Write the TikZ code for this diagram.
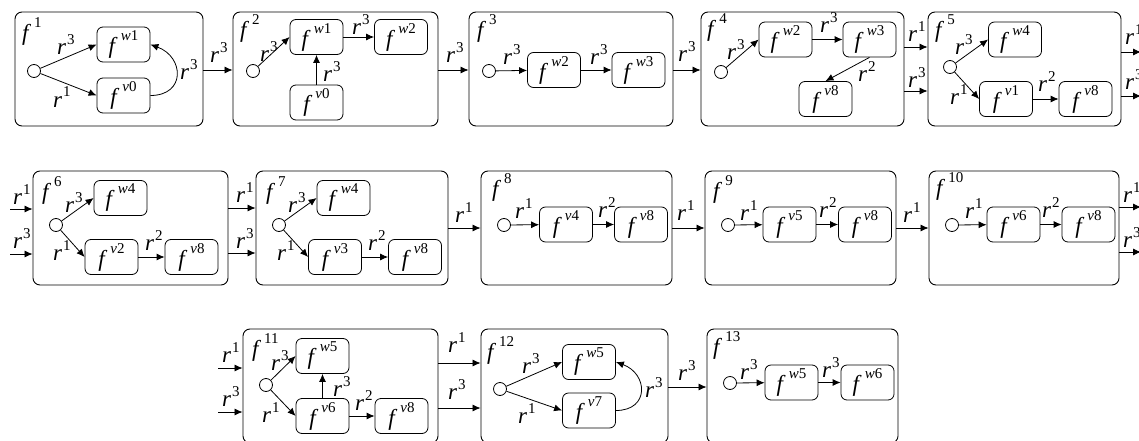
\documentclass[tikz,border=0pt]{standalone}
\usepackage{fontspec}
\setmainfont{Liberation Serif}
\usetikzlibrary{arrows.meta}
\newcommand\Fs[1]{\textit{f}\kern3pt\raisebox{13pt}{\fontsize{15}{15}\selectfont #1}}
\newcommand\Fw[1]{\Fs{\textit{w}#1}}
\newcommand\Fv[1]{\Fs{\textit{v}#1}}
\newcommand\Rs[1]{\textit{r}\kern1pt\raisebox{10pt}{\fontsize{15}{15}\selectfont #1}}
\tikzset{
 bigbox/.style={draw, rounded corners=7pt, inner sep=0pt, line width=0.9pt, minimum height=114pt},
 sbox/.style={draw, rounded corners=6pt, minimum width=53pt, minimum height=35pt, inner sep=0pt, line width=0.8pt},
 start/.style={draw, circle, minimum size=13pt, inner sep=0pt, line width=0.8pt},
 lbl/.style={anchor=base west, inner sep=0pt},
 arr/.style={-{Latex[length=8pt,width=7pt]}, line width=0.8pt},
 loop/.style={out=0,in=-20,looseness=1.8},
}
\begin{document}
\begin{tikzpicture}[x=1pt,y=-1pt,font=\fontsize{23}{23}\selectfont]
\useasboundingbox (0,0) rectangle (1139,441);
\clip (0,0) rectangle (1139,441);
% ---------------- Row 1 ----------------
\node[bigbox, minimum width=188pt] (B1) at (109,69) {};
\node[bigbox, minimum width=205pt] (B2) at (335.5,69) {};
\node[bigbox, minimum width=204pt] (B3) at (571,69) {};
\node[bigbox, minimum width=203pt] (B4) at (802.5,69) {};
\node[bigbox, minimum width=193pt] (B5) at (1024.5,69) {};
% f1
\node[lbl] (t1) at (22,41) {\Fs{1}};
\node[start] (c1) at (34,71) {};
\node[sbox] (b1w1) at (123.5,44.5) {\Fw{1}};
\node[sbox] (b1v0) at (123.5,95.5) {\Fv{0}};
\draw[arr] (c1) -- (b1w1.west);
\draw[arr] (c1) -- (b1v0.west);
\draw[arr] (b1v0.east) to[loop] (b1w1.east);
\node[lbl] (l1a) at (57,55) {\Rs{3}};
\node[lbl] (l1b) at (53,107) {\Rs{1}};
\node[lbl] (l1c) at (180,80) {\Rs{3}};
\draw[arr] (B1.east |- 0,70) -- (B2.west |- 0,70);
\node[lbl] (l12) at (210,63) {\Rs{3}};
% f2
\node[lbl] (t2) at (240,38) {\Fs{2}};
\node[start] (c2) at (253,71) {};
\node[sbox] (b2w1) at (316.5,37) {\Fw{1}};
\node[sbox] (b2w2) at (401,37) {\Fw{2}};
\node[sbox] (b2v0) at (316.5,102.5) {\Fv{0}};
\draw[arr] (c2) -- (b2w1.west);
\draw[arr] (b2w1) -- (b2w2);
\draw[arr] (b2v0) -- (b2w1);
\node[lbl] (l2a) at (260,62) {\Rs{3}};
\node[lbl] (l2b) at (352,35) {\Rs{3}};
\node[lbl] (l2c) at (323,82) {\Rs{3}};
\draw[arr] (B2.east |- 0,70) -- (B3.west |- 0,70);
\node[lbl] (l23) at (446,63) {\Rs{3}};
% f3
\node[lbl] (t3) at (477,38) {\Fs{3}};
\node[start] (c3) at (489,71) {};
\node[sbox] (b3w2) at (554,70) {\Fw{2}};
\node[sbox] (b3w3) at (638.5,70) {\Fw{3}};
\draw[arr] (c3) -- (b3w2);
\draw[arr] (b3w2) -- (b3w3);
\node[lbl] (l3a) at (503,65) {\Rs{3}};
\node[lbl] (l3b) at (590,65) {\Rs{3}};
\draw[arr] (B3.east |- 0,70) -- (B4.west |- 0,70);
\node[lbl] (l34) at (678,62) {\Rs{3}};
% f4
\node[lbl] (t4) at (707,37) {\Fs{4}};
\node[start] (c4) at (721,72) {};
\node[sbox] (b4w2) at (785.5,39.5) {\Fw{2}};
\node[sbox] (b4w3) at (869.5,39.5) {\Fw{3}};
\node[sbox] (b4v8) at (825.5,99) {\Fv{8}};
\draw[arr] (c4) -- (b4w2.west);
\draw[arr] (b4w2) -- (b4w3);
\draw[arr] (b4w3.south) -- (b4v8.north);
\node[lbl] (l4a) at (727,60) {\Rs{3}};
\node[lbl] (l4b) at (820,33) {\Rs{3}};
\node[lbl] (l4c) at (858,82) {\Rs{2}};
\draw[arr] (B4.east |- 0,47) -- (B5.west |- 0,47);
\draw[arr] (B4.east |- 0,91) -- (B5.west |- 0,91);
\node[lbl] (l45a) at (908,42) {\Rs{1}};
\node[lbl] (l45b) at (908,88) {\Rs{3}};
% f5
\node[lbl] (t5) at (935,38) {\Fs{5}};
\node[start] (c5) at (950,67) {};
\node[sbox] (b5w4) at (1015,39.5) {\Fw{4}};
\node[sbox] (b5v1) at (1006,99) {\Fv{1}};
\node[sbox] (b5v8) at (1085.5,99) {\Fv{8}};
\draw[arr] (c5) -- (b5w4.west);
\draw[arr] (c5) -- (b5v1.west);
\draw[arr] (b5v1) -- (b5v8);
\node[lbl] (l5a) at (955,55) {\Rs{3}};
\node[lbl] (l5b) at (950,105) {\Rs{1}};
\node[lbl] (l5c) at (1038,92) {\Rs{2}};
\coordinate (o5a) at (1141,52);
\coordinate (o5b) at (1141,96);
\draw[arr] (B5.east |- o5a) -- (o5a);
\draw[arr] (B5.east |- o5b) -- (o5b);
\node[lbl] (l5o1) at (1125,45) {\Rs{1}};
\node[lbl] (l5o2) at (1125,90) {\Rs{3}};
% ---------------- Row 2 ----------------
\node[bigbox, minimum width=195pt] (B6) at (130.5,228) {};
\node[bigbox, minimum width=192pt] (B7) at (352,228) {};
\node[bigbox, minimum width=191pt] (B8) at (576.5,228) {};
\node[bigbox, minimum width=191pt] (B9) at (800.5,228) {};
\node[bigbox, minimum width=190pt] (B10) at (1024,228) {};
% f6
\coordinate (i6a) at (10,209);
\coordinate (i6b) at (10,254);
\draw[arr] (i6a) -- (B6.west |- i6a);
\draw[arr] (i6b) -- (B6.west |- i6b);
\node[lbl] (l6i1) at (13,204) {\Rs{1}};
\node[lbl] (l6i2) at (13,248) {\Rs{3}};
\node[lbl] (t6) at (42,199) {\Fs{6}};
\node[start] (c6) at (56,225) {};
\node[sbox] (b6w4) at (120.5,198) {\Fw{4}};
\node[sbox] (b6v2) at (111.5,257) {\Fv{2}};
\node[sbox] (b6v8) at (191.5,257) {\Fv{8}};
\draw[arr] (c6) -- (b6w4.west);
\draw[arr] (c6) -- (b6v2.west);
\draw[arr] (b6v2) -- (b6v8);
\node[lbl] (l6a) at (65,212) {\Rs{3}};
\node[lbl] (l6b) at (53,260) {\Rs{1}};
\node[lbl] (l6c) at (145,250) {\Rs{2}};
\draw[arr] (B6.east |- 0,208) -- (B7.west |- 0,208);
\draw[arr] (B6.east |- 0,253) -- (B7.west |- 0,253);
\node[lbl] (l67a) at (236,202) {\Rs{1}};
\node[lbl] (l67b) at (236,248) {\Rs{3}};
% f7
\node[lbl] (t7) at (266,199) {\Fs{7}};
\node[start] (c7) at (279,225) {};
\node[sbox] (b7w4) at (343.5,198) {\Fw{4}};
\node[sbox] (b7v3) at (335,257) {\Fv{3}};
\node[sbox] (b7v8) at (415,257) {\Fv{8}};
\draw[arr] (c7) -- (b7w4.west);
\draw[arr] (c7) -- (b7v3.west);
\draw[arr] (b7v3) -- (b7v8);
\node[lbl] (l7a) at (288,212) {\Rs{3}};
\node[lbl] (l7b) at (277,260) {\Rs{1}};
\node[lbl] (l7c) at (368,250) {\Rs{2}};
\draw[arr] (B7.east |- 0,228) -- (B8.west |- 0,228);
\node[lbl] (l78) at (455,222) {\Rs{1}};
% f8
\node[lbl] (t8) at (492,196) {\Fs{8}};
\node[start] (c8) at (504,225) {};
\node[sbox] (b8v4) at (566,224.5) {\Fv{4}};
\node[sbox] (b8v8) at (641,224.5) {\Fv{8}};
\draw[arr] (c8) -- (b8v4);
\draw[arr] (b8v4) -- (b8v8);
\node[lbl] (l8a) at (515,218) {\Rs{1}};
\node[lbl] (l8b) at (598,217) {\Rs{2}};
\draw[arr] (B8.east |- 0,228) -- (B9.west |- 0,228);
\node[lbl] (l89) at (677,220) {\Rs{1}};
% f9
\node[lbl] (t9) at (713,198) {\Fs{9}};
\node[start] (c9) at (728,225) {};
\node[sbox] (b9v5) at (789.5,224.5) {\Fv{5}};
\node[sbox] (b9v8) at (865,224.5) {\Fv{8}};
\draw[arr] (c9) -- (b9v5);
\draw[arr] (b9v5) -- (b9v8);
\node[lbl] (l9a) at (740,220) {\Rs{1}};
\node[lbl] (l9b) at (819,217) {\Rs{2}};
\draw[arr] (B9.east |- 0,228) -- (B10.west |- 0,228);
\node[lbl] (l910) at (903,222) {\Rs{1}};
% f10
\node[lbl] (t10) at (936,195) {\Fs{10}};
\node[start] (c10) at (952,225) {};
\node[sbox] (b10v6) at (1013.5,224.5) {\Fv{6}};
\node[sbox] (b10v8) at (1088.5,224.5) {\Fv{8}};
\draw[arr] (c10) -- (b10v6);
\draw[arr] (b10v6) -- (b10v8);
\node[lbl] (l10a) at (965,218) {\Rs{1}};
\node[lbl] (l10b) at (1042,217) {\Rs{2}};
\coordinate (o10a) at (1141,207);
\coordinate (o10b) at (1141,252);
\draw[arr] (B10.east |- o10a) -- (o10a);
\draw[arr] (B10.east |- o10b) -- (o10b);
\node[lbl] (l10o1) at (1123,202) {\Rs{1}};
\node[lbl] (l10o2) at (1123,247) {\Rs{3}};
% ---------------- Row 3 ----------------
\node[bigbox, minimum width=195pt] (B11) at (340.5,386) {};
\node[bigbox, minimum width=187pt] (B12) at (574.5,386) {};
\node[bigbox, minimum width=191pt] (B13) at (802.5,386) {};
% f11
\coordinate (i11a) at (218,368);
\coordinate (i11b) at (218,412);
\draw[arr] (i11a) -- (B11.west |- i11a);
\draw[arr] (i11b) -- (B11.west |- i11b);
\node[lbl] (l11i1) at (222,362) {\Rs{1}};
\node[lbl] (l11i2) at (222,406) {\Rs{3}};
\node[lbl] (t11) at (252,356) {\Fs{11}};
\node[start] (c11) at (266,385) {};
\node[sbox] (b11w5) at (322.5,356) {\Fw{5}};
\node[sbox] (b11v6) at (322.5,416) {\Fv{6}};
\node[sbox] (b11v8) at (401.5,416) {\Fv{8}};
\draw[arr] (c11) -- (b11w5.west);
\draw[arr] (c11) -- (b11v6.west);
\draw[arr] (b11v6) -- (b11w5);
\draw[arr] (b11v6) -- (b11v8);
\node[lbl] (l11a) at (271,370) {\Rs{3}};
\node[lbl] (l11b) at (262,422) {\Rs{1}};
\node[lbl] (l11c) at (333,396) {\Rs{3}};
\node[lbl] (l11d) at (355,410) {\Rs{2}};
\draw[arr] (B11.east |- 0,363) -- (B12.west |- 0,363);
\draw[arr] (B11.east |- 0,408) -- (B12.west |- 0,408);
\node[lbl] (l1112a) at (448,352) {\Rs{1}};
\node[lbl] (l1112b) at (448,399) {\Rs{3}};
% f12
\node[lbl] (t12) at (487,359) {\Fs{12}};
\node[start] (c12) at (500,389) {};
\node[sbox] (b12w5) at (589,362) {\Fw{5}};
\node[sbox] (b12v7) at (589,410.5) {\Fv{7}};
\draw[arr] (c12) -- (b12w5.west);
\draw[arr] (c12) -- (b12v7.west);
\draw[arr] (b12v7.east) to[loop] (b12w5.east);
\node[lbl] (l12a) at (522,373) {\Rs{3}};
\node[lbl] (l12b) at (518,423) {\Rs{1}};
\node[lbl] (l12c) at (645,397) {\Rs{3}};
\draw[arr] (B12.east |- 0,387) -- (B13.west |- 0,387);
\node[lbl] (l1213) at (678,380) {\Rs{3}};
% f13
\node[lbl] (t13) at (713,354) {\Fs{13}};
\node[start] (c13) at (730,383) {};
\node[sbox] (b13w5) at (791.5,382.5) {\Fw{5}};
\node[sbox] (b13w6) at (867.5,382.5) {\Fw{6}};
\draw[arr] (c13) -- (b13w5);
\draw[arr] (b13w5) -- (b13w6);
\node[lbl] (l13a) at (740,379) {\Rs{3}};
\node[lbl] (l13b) at (822,377) {\Rs{3}};
\end{tikzpicture}
\end{document}
